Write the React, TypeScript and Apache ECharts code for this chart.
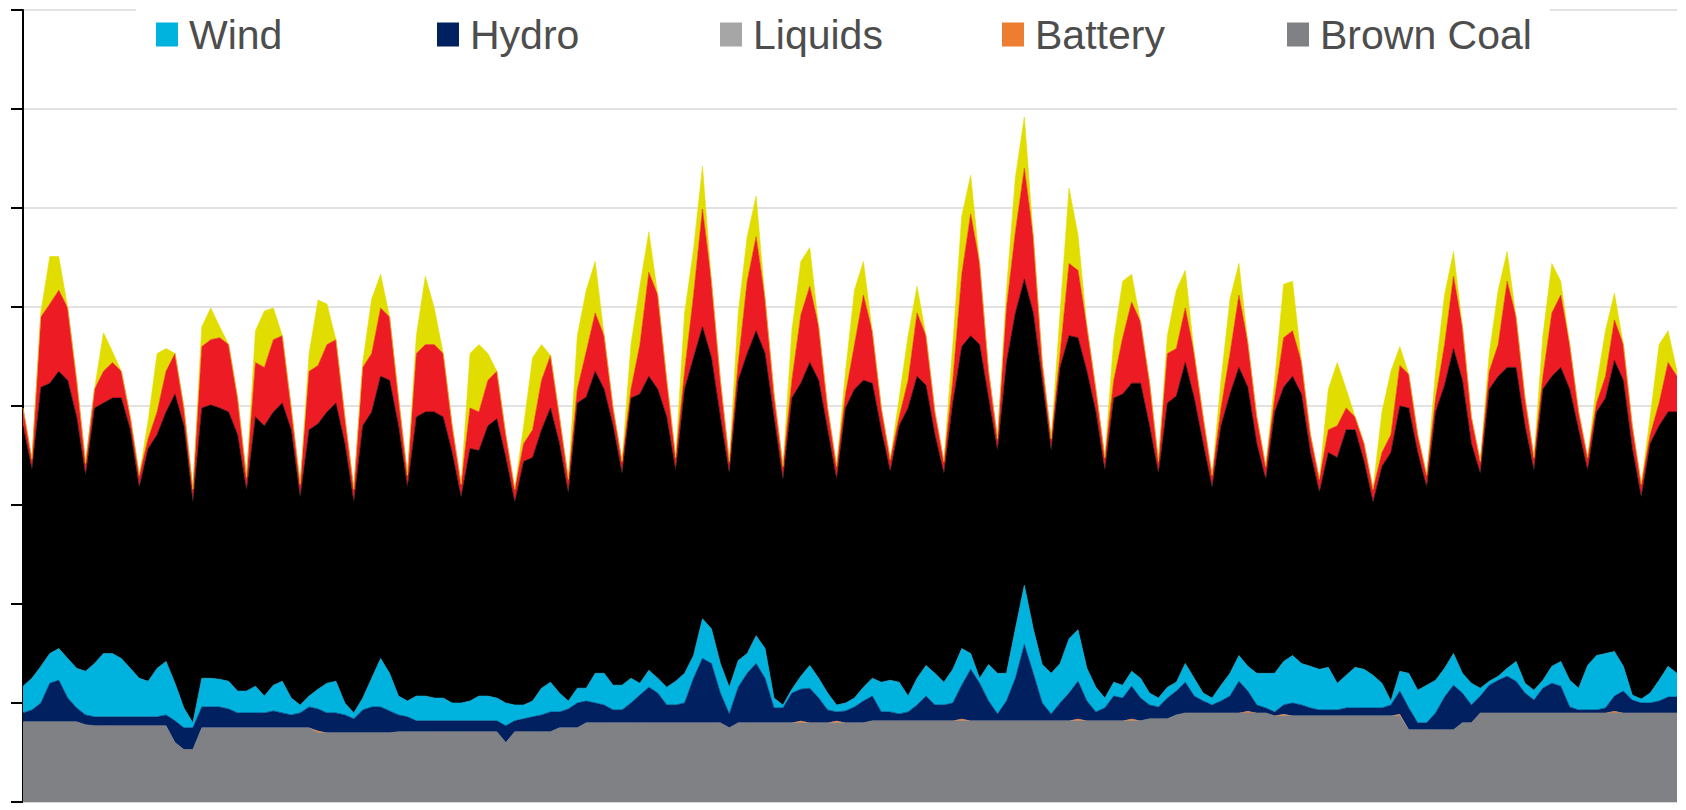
import React, { useEffect, useRef } from "react";
import * as echarts from "echarts";

// 31 days, 6 readings per day (00:30, 04:30, 08:30, 12:30, 16:30, 20:30); one gridline = 1000
const DAYS = 31;
const HOURS = ["00:30", "04:30", "08:30", "12:30", "16:30", "20:30"];
const yTicks = [0, 1000, 2000, 3000, 4000, 5000, 6000, 7000, 8000];

const brownCoal = [
  810, 810, 810, 810, 810, 810,
  810, 780, 770, 770, 770, 770,
  770, 770, 770, 770, 770, 600,
  530, 530, 750, 750, 750, 750,
  750, 750, 750, 750, 750, 750,
  750, 750, 750, 700, 700, 700,
  700, 700, 700, 700, 700, 700,
  710, 710, 710, 710, 710, 710,
  710, 710, 710, 710, 710, 710,
  600, 710, 710, 710, 710, 710,
  750, 750, 750, 800, 800, 800,
  800, 800, 800, 800, 800, 800,
  800, 800, 800, 800, 800, 800,
  800, 750, 800, 800, 800, 800,
  800, 800, 800, 800, 800, 800,
  800, 800, 800, 800, 800, 820,
  820, 820, 820, 820, 820, 820,
  820, 820, 820, 820, 820, 820,
  820, 820, 820, 820, 820, 820,
  820, 820, 820, 820, 820, 820,
  820, 820, 820, 820, 820, 820,
  840, 840, 840, 880, 900, 900,
  900, 900, 900, 900, 900, 900,
  900, 900, 870, 870, 870, 870,
  870, 870, 870, 870, 870, 870,
  870, 870, 870, 870, 870, 730,
  730, 730, 730, 730, 730, 800,
  800, 900, 900, 900, 900, 900,
  900, 900, 900, 900, 900, 900,
  900, 900, 900, 900, 900, 900,
  900, 900, 900, 900, 900, 900,
];

const battery = [
  0, 0, 0, 0, 0, 0,
  0, 0, 0, 0, 0, 0,
  0, 0, 0, 0, 0, 0,
  0, 0, 0, 0, 0, 0,
  0, 0, 0, 0, 0, 0,
  0, 0, 0, 20, 0, 0,
  0, 0, 0, 0, 0, 0,
  0, 0, 0, 0, 0, 0,
  0, 0, 0, 0, 0, 0,
  0, 0, 0, 0, 0, 0,
  0, 0, 0, 0, 0, 0,
  0, 0, 0, 0, 0, 0,
  0, 0, 0, 0, 0, 0,
  0, 0, 0, 0, 0, 0,
  0, 0, 0, 20, 0, 0,
  0, 20, 0, 0, 0, 0,
  0, 0, 0, 0, 0, 0,
  0, 0, 0, 20, 0, 0,
  0, 0, 0, 0, 0, 0,
  0, 0, 0, 0, 20, 0,
  0, 0, 0, 0, 20, 0,
  0, 0, 0, 0, 0, 0,
  0, 0, 0, 0, 0, 20,
  0, 0, 0, 20, 0, 0,
  0, 0, 0, 0, 0, 0,
  0, 0, 0, 0, 20, 0,
  0, 0, 0, 0, 0, 0,
  0, 0, 0, 0, 0, 0,
  0, 0, 0, 0, 0, 0,
  0, 0, 0, 0, 20, 0,
  0, 0, 0, 0, 0, 0,
];

const liquids = [
  0, 0, 0, 0, 0, 0,
  0, 0, 0, 0, 0, 0,
  0, 0, 0, 0, 0, 0,
  0, 0, 0, 0, 0, 0,
  0, 0, 0, 0, 0, 0,
  0, 0, 0, 0, 0, 0,
  0, 0, 0, 0, 0, 0,
  0, 0, 0, 0, 0, 0,
  0, 0, 0, 0, 0, 0,
  0, 0, 0, 0, 0, 0,
  0, 0, 0, 0, 0, 0,
  0, 0, 0, 0, 0, 0,
  0, 0, 0, 0, 0, 0,
  0, 0, 0, 0, 0, 0,
  0, 0, 0, 0, 0, 0,
  0, 0, 0, 0, 0, 0,
  0, 0, 0, 0, 0, 0,
  0, 0, 0, 0, 0, 0,
  0, 0, 0, 0, 0, 0,
  0, 0, 0, 0, 0, 0,
  0, 0, 0, 0, 0, 0,
  0, 0, 0, 0, 0, 0,
  0, 0, 0, 0, 0, 0,
  0, 0, 0, 0, 0, 0,
  0, 0, 0, 0, 0, 0,
  0, 0, 0, 0, 0, 0,
  0, 0, 0, 0, 0, 0,
  0, 0, 0, 0, 0, 0,
  0, 0, 0, 0, 0, 0,
  0, 0, 0, 0, 0, 0,
  0, 0, 0, 0, 0, 0,
];

const hydro = [
  90, 120, 190, 390, 420, 240,
  140, 100, 90, 90, 90, 90,
  90, 90, 90, 90, 110, 220,
  220, 220, 210, 210, 210, 190,
  150, 150, 150, 150, 170, 150,
  130, 150, 210, 220, 200, 200,
  180, 140, 230, 260, 260, 220,
  170, 150, 110, 110, 110, 110,
  110, 110, 110, 110, 110, 110,
  170, 110, 130, 150, 170, 200,
  160, 190, 250, 220, 200, 180,
  130, 130, 200, 280, 360, 300,
  180, 180, 200, 450, 650, 600,
  300, 140, 360, 500, 600, 450,
  150, 150, 300, 320, 350, 250,
  130, 90, 120, 160, 220, 250,
  90, 90, 70, 90, 160, 250,
  160, 160, 180, 340, 520, 380,
  200, 70, 200, 430, 770, 480,
  180, 70, 180, 280, 380, 200,
  90, 130, 250, 230, 330, 230,
  140, 120, 210, 240, 310, 170,
  120, 80, 120, 170, 320, 200,
  80, 50, 40, 90, 130, 110,
  80, 60, 60, 60, 80, 80,
  80, 80, 80, 110, 230, 220,
  70, 70, 170, 330, 450, 300,
  180, 170, 280, 330, 370, 320,
  200, 130, 250, 300, 270, 60,
  30, 30, 30, 50, 150, 220,
  130, 100, 100, 120, 160, 160,
];

const wind = [
  270, 320, 370, 300, 320, 400,
  400, 440, 540, 640, 640, 590,
  490, 390, 360, 490, 540, 380,
  200, 50, 290, 290, 280, 280,
  220, 220, 270, 170, 260, 320,
  170, 80, 110, 200, 300, 320,
  120, 60, 120, 290, 490, 380,
  190, 160, 250, 250, 230, 230,
  180, 180, 200, 250, 250, 230,
  230, 160, 140, 160, 270, 300,
  190, 80, 150, 130, 300, 320,
  250, 250, 250, 120, 170, 150,
  180, 240, 300, 230, 400, 350,
  300, 270, 270, 200, 280, 300,
  100, 30, 40, 130, 230, 200,
  170, 70, 80, 90, 140, 180,
  300, 320, 320, 160, 270, 310,
  320, 230, 340, 370, 160, 50,
  370, 410, 280, 500, 600, 450,
  390, 410, 400, 550, 520, 330,
  250, 100, 140, 130, 150, 200,
  120, 90, 110, 90, 190, 180,
  80, 70, 160, 230, 260, 250,
  320, 350, 390, 440, 480, 420,
  420, 410, 430, 270, 330, 410,
  390, 330, 250, 40, 200, 350,
  330, 380, 330, 290, 320, 200,
  220, 80, 40, 40, 80, 200,
  100, 100, 80, 170, 250, 270,
  220, 450, 550, 550, 450, 250,
  50, 40, 100, 210, 310, 240,
];

const blackCoal = [
  2630, 2110, 2820, 2730, 2800, 2810,
  2540, 1980, 2580, 2530, 2580, 2630,
  2410, 1930, 2350, 2360, 2520, 2920,
  2850, 2230, 2730, 2760, 2740, 2720,
  2590, 2030, 2720, 2730, 2760, 2810,
  2710, 2100, 2690, 2680, 2740, 2810,
  2620, 2130, 2750, 2690, 2850, 2960,
  2730, 2160, 2820, 2870, 2890, 2840,
  2530, 2080, 2550, 2480, 2730, 2820,
  2480, 2050, 2460, 2460, 2610, 2770,
  2520, 2100, 2880, 2940, 3050, 2870,
  2620, 2140, 2830, 2920, 2970, 2920,
  2730, 2130, 2870, 3010, 2950, 2740,
  2490, 2160, 2830, 3030, 3080, 2980,
  2840, 2280, 2940, 2960, 3060, 3010,
  2660, 2280, 2980, 3120, 3100, 2980,
  2550, 2110, 2590, 2910, 3050, 2830,
  2410, 2110, 2690, 3050, 3210, 3370,
  2690, 2250, 3140, 3190, 3090, 3190,
  2870, 2250, 2990, 3060, 2950, 3000,
  2780, 2300, 2870, 2940, 2910, 2980,
  2700, 2270, 2870, 2890, 3040, 2830,
  2520, 2130, 2620, 2820, 2910, 2820,
  2320, 1960, 2640, 2770, 2820, 2720,
  2160, 1790, 2170, 2280, 2480, 2400,
  2100, 1750, 2190, 2510, 2680, 2680,
  2400, 2000, 2710, 2860, 3080, 2960,
  2420, 2170, 2950, 3030, 3040, 2970,
  2600, 2220, 2940, 2930, 2970, 2940,
  2610, 1970, 2460, 2580, 2940, 2890,
  2490, 2040, 2520, 2570, 2570, 2640,
];

const gas = [
  180, 100, 710, 800, 820, 730,
  370, 120, 190, 320, 360, 270,
  130, 120, 100, 230, 410, 410,
  180, 130, 620, 660, 710, 680,
  370, 130, 550, 590, 730, 680,
  220, 130, 590, 590, 680, 640,
  270, 130, 590, 590, 690, 640,
  280, 120, 640, 680, 680, 640,
  270, 130, 410, 390, 460, 480,
  230, 130, 180, 280, 500, 530,
  270, 140, 140, 460, 590, 540,
  180, 120, 90, 500, 1050, 950,
  370, 130, 180, 630, 1190, 770,
  370, 120, 180, 730, 950, 550,
  230, 130, 180, 690, 770, 540,
  220, 130, 140, 450, 860, 520,
  220, 120, 90, 280, 640, 500,
  230, 120, 230, 730, 1230, 820,
  270, 120, 550, 820, 1120, 770,
  180, 120, 140, 730, 680, 450,
  230, 130, 180, 570, 820, 620,
  440, 120, 500, 480, 550, 450,
  270, 120, 180, 410, 730, 450,
  270, 130, 140, 500, 460, 320,
  180, 130, 230, 320, 220, 130,
  180, 130, 140, 180, 410, 340,
  180, 120, 140, 410, 730, 540,
  270, 120, 180, 320, 870, 510,
  280, 130, 130, 640, 730, 450,
  180, 130, 90, 220, 410, 360,
  230, 130, 90, 230, 500, 360,
];

const solar = [
  0, 0, 50, 480, 340, 0,
  0, 0, 0, 390, 110, 0,
  0, 0, 180, 590, 230, 0,
  0, 0, 200, 320, 110, 0,
  0, 0, 320, 570, 320, 0,
  0, 0, 180, 660, 410, 0,
  0, 0, 50, 550, 340, 0,
  0, 0, 180, 690, 370, 0,
  0, 0, 550, 680, 270, 0,
  0, 0, 180, 730, 360, 0,
  0, 0, 540, 620, 520, 0,
  0, 0, 450, 590, 410, 0,
  0, 0, 590, 460, 430, 0,
  0, 0, 500, 450, 410, 0,
  0, 0, 500, 540, 390, 0,
  0, 0, 230, 550, 340, 0,
  0, 0, 190, 450, 270, 0,
  0, 0, 360, 590, 390, 0,
  0, 0, 180, 550, 520, 0,
  0, 0, 410, 760, 360, 0,
  0, 0, 410, 570, 280, 0,
  0, 0, 180, 590, 380, 0,
  0, 0, 280, 550, 320, 0,
  0, 0, 180, 540, 500, 0,
  0, 0, 410, 640, 190, 0,
  0, 0, 410, 640, 190, 0,
  0, 0, 270, 500, 250, 0,
  0, 0, 180, 550, 300, 0,
  0, 0, 410, 500, 140, 0,
  0, 0, 180, 460, 270, 0,
  0, 0, 180, 590, 320, 50,
];

const legendNames = ["Wind", "Hydro", "Liquids", "Battery", "Brown Coal"];

const categories: string[] = [];
for (let d = 1; d <= DAYS; d++) {
  for (const h of HOURS) categories.push(`Day ${d} ${h}`);
}

const seriesDefs = [
  { name: "Brown Coal", data: brownCoal, color: "#808184", stroke: 0.6 },
  { name: "Battery", data: battery, color: "#ED7D31", stroke: 0 },
  { name: "Liquids", data: liquids, color: "#A6A6A6", stroke: 0 },
  { name: "Hydro", data: hydro, color: "#002060", stroke: 0.6 },
  { name: "Wind", data: wind, color: "#00B2DE", stroke: 0.6 },
  { name: "Black Coal", data: blackCoal, color: "#000000", stroke: 0.6 },
  { name: "Gas", data: gas, color: "#ED1C24", stroke: 0.6 },
  { name: "Solar", data: solar, color: "#E2DD00", stroke: 0.6 },
];

export default function App() {
  const ref = useRef<HTMLDivElement>(null);

  useEffect(() => {
    if (!ref.current) return;
    const chart = echarts.init(ref.current, null, { renderer: "svg" });
    const legendLeft = [156, 437, 720, 1002, 1287];
    chart.setOption({
      animation: false,
      backgroundColor: "#ffffff",
      grid: { left: 23, right: 9, top: 10, bottom: 8, containLabel: false },
      legend: legendNames.map((n, i) => ({
        data: [n],
        left: legendLeft[i],
        top: 14,
        padding: 0,
        icon: "rect",
        itemWidth: 22,
        itemHeight: 24,
        selectedMode: false,
        z: 100,
        textStyle: {
          fontSize: 41,
          color: "#4D4D4D",
          fontFamily: "'Liberation Sans', Arial, sans-serif",
          padding: [0, 0, 0, 6],
        },
      })),
      graphic: [
        {
          type: "rect",
          left: 136,
          top: 0,
          shape: { width: 1414, height: 40 },
          style: { fill: "#ffffff" },
          z: 50,
          silent: true,
        },
      ],
      xAxis: {
        type: "category",
        data: categories,
        boundaryGap: false,
        axisLabel: { show: false },
        axisTick: { show: false },
        axisLine: { show: true, lineStyle: { color: "#d9d9d9", width: 1 } },
        splitLine: { show: false },
      },
      yAxis: {
        type: "value",
        min: yTicks[0],
        max: yTicks[yTicks.length - 1],
        interval: yTicks[1] - yTicks[0],
        axisLabel: { show: false },
        axisLine: { show: true, lineStyle: { color: "#000000", width: 2 } },
        axisTick: { show: true, length: 12, lineStyle: { color: "#000000", width: 2 } },
        splitLine: { show: true, lineStyle: { color: "#d9d9d9", width: 1.5 } },
      },
      series: seriesDefs.map((s) => ({
        name: s.name,
        type: "line",
        stack: "total",
        data: s.data,
        color: s.color,
        symbol: "none",
        showSymbol: false,
        smooth: false,
        itemStyle: { color: s.color },
        lineStyle: { width: s.stroke, color: s.color },
        areaStyle: { color: s.color, opacity: 1 },
        emphasis: { disabled: true },
      })),
    });
    return () => chart.dispose();
  }, []);

  return (
    <div
      ref={ref}
      style={{ position: "fixed", left: 0, top: 0, width: 1686, height: 810 }}
    />
  );
}
